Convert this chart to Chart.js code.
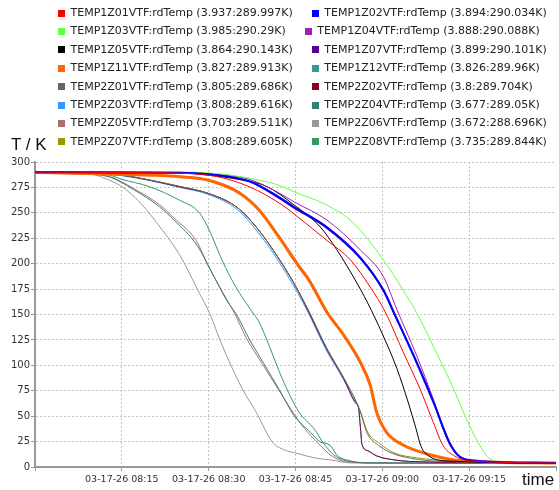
<!DOCTYPE html>
<html>
<head>
<meta charset="utf-8">
<script src="https://cdn.jsdelivr.net/npm/chart.js@4"></script>
<style>
  body { margin: 0; background: #fff; }
  #wrap { position: relative; width: 559px; height: 490px; overflow: hidden; }
  #chart { position: absolute; left: 0; top: 0; }
  #legend { position: absolute; left: 58px; top: 4px; font: 11px 'DejaVu Sans'; color: #222; }
  .row { display: flex; gap: 19px; height: 18.4px; line-height: 18.4px; white-space: nowrap; }
  .item { display: flex; align-items: center; }
  .box { width: 7px; height: 7px; margin-right: 5.5px; }
  .axis-title { position: absolute; font: 17px 'Liberation Sans'; line-height: 17px; color: #111; }
</style>
</head>
<body>
<div id="wrap">
  <canvas id="chart" width="559" height="490"></canvas>
  <div id="legend"></div>
  <div class="axis-title" style="left:11px; top:136px">T / K</div>
  <div class="axis-title" style="left:522px; top:471px">time</div>
</div>
<script>
// minutes after 08:00 and temperatures (K)
const t1Z01 = [0, 20, 30, 37, 42.7, 45.6, 50.4, 54.5, 57.9, 60.5, 63.6, 66.5, 68.8, 70.5, 72.3, 75, 90]
const T1Z01 = [289.997, 289.5, 287, 275.7, 257.7, 245, 223, 203.6, 177, 152.5, 113, 77, 44, 21, 11.5, 6, 3.937]

const t1Z02 = [0, 25, 30, 37, 42, 44.7, 50.4, 56.2, 60.2, 62, 65.9, 68.8, 71.7, 73.4, 76, 90]
const T1Z02 = [290.034, 289.5, 288, 281, 266, 256, 236, 206, 174, 152, 103, 64, 23, 10, 6, 3.894]

const t1Z03 = [0, 25, 31, 38, 42.7, 44.7, 50.4, 55, 60.2, 63.6, 65.9, 69.3, 72.3, 74.5, 76.8, 78.6, 81, 90]
const T1Z03 = [290.29, 290, 288.8, 283, 276, 270.8, 257.7, 240, 203.6, 174, 152, 113, 77, 47.5, 21.6, 8, 5, 3.985]

const t1Z04 = [0, 25, 30, 37, 42, 44.7, 50.4, 56.2, 60.2, 62.5, 65.9, 68.8, 71.1, 72.8, 75.7, 90]
const T1Z04 = [290.088, 289.8, 288.5, 283, 270, 261, 243, 213.4, 187, 155, 110, 67, 31, 12, 7, 3.888]

const t1Z05 = [0, 25, 30, 35, 40, 44.7, 49.3, 52.1, 55, 57.5, 60, 62.5, 64.5, 65.8, 66.7, 68, 71, 90]
const T1Z05 = [290.143, 289.5, 287, 283, 276, 258, 236, 214, 187, 161, 131, 97, 63, 38, 20, 11, 6, 3.864]

const t1Z07 = [0, 25, 30, 37, 42, 44.7, 50.4, 56.2, 60.2, 62, 65.9, 68.8, 71.5, 73.2, 76, 90]
const T1Z07 = [290.101, 289.5, 288, 281, 265, 255, 235, 205, 173, 151, 104, 65, 24, 11, 6, 3.899]

const t1Z11 = [0, 20, 25, 30, 35.3, 38.7, 42.1, 45.6, 47.3, 50.4, 53.3, 56.2, 57.9, 59, 60.7, 63.6, 67.6, 72.3, 78, 90]
const T1Z11 = [289.913, 287, 285.5, 282, 269.5, 252.8, 226.5, 197, 184, 152.5, 130, 103, 80.6, 54, 34.4, 21.6, 13, 7, 5, 3.827]

const t1Z12 = [0, 20, 25, 30, 35.3, 38.7, 42.1, 45.6, 47.3, 50.4, 53.3, 56.2, 57.9, 59, 60.7, 63.6, 67.6, 72.3, 78, 90]
const T1Z12 = [289.96, 287.5, 286, 282.5, 270.5, 254, 228, 199, 186, 154, 131, 104, 82, 56, 35, 22, 13, 7, 5, 3.826]

const t2Z01 = [0, 10, 15, 20, 25, 30, 35, 38.5, 42, 45, 47, 50.4, 53.3, 55.5, 56.2, 57.4, 59.4, 61.7, 65, 70, 90]
const T2Z01 = [289.686, 289, 287, 282, 276, 269, 255, 234, 206, 178, 157, 117, 88, 64, 54, 33, 21, 13.5, 8.5, 5.5, 3.805]

const t2Z02 = [0, 10, 15, 20, 25, 30, 35, 38.5, 42, 45, 47, 50.4, 53.3, 55.3, 55.9, 56.2, 56.5, 57.5, 59, 62, 67, 90]
const T2Z02 = [289.704, 289, 287, 282, 275.5, 269, 255, 234, 206, 178, 156, 116, 87, 64, 58, 40, 22, 16, 11, 7, 5, 3.8]

const t2Z03 = [0, 10, 15, 20, 25, 30, 35, 38.5, 42, 45, 47, 50.4, 53.3, 55.3, 55.9, 56.2, 56.5, 57.5, 59, 62, 67, 90]
const T2Z03 = [289.616, 289, 286.5, 281.5, 275, 268, 253, 231, 203, 175, 154, 114, 86, 63, 57, 39, 22, 16, 11, 7, 5, 3.808]

const t2Z04 = [0, 8, 13, 17, 21.5, 24, 28, 30.5, 33, 35, 37, 39.5, 42.2, 44.7, 47.6, 49.3, 50.4, 51.2, 52.1, 54.5, 58, 90]
const T2Z04 = [289.05, 288.5, 285, 273, 256, 243, 218, 192, 165, 148, 126, 102, 76, 51, 34, 24.6, 23, 20, 12, 6, 4, 3.677]

const t2Z05 = [0, 8, 13, 17, 21.5, 24, 27.8, 30.1, 33, 34.5, 36.4, 39.2, 42.2, 45.6, 47.6, 49.5, 51, 53, 55, 60, 90]
const T2Z05 = [289.511, 289, 285.5, 274, 258, 245, 223, 196, 166, 151, 128, 102, 75, 45, 31, 20, 12, 6, 4.5, 3.9, 3.703]

const t2Z06 = [0, 9.5, 12.9, 15.2, 18, 22, 25, 28.4, 30.1, 32.3, 35.8, 38.2, 41, 43, 45.6, 48.2, 51, 54.5, 60, 90]
const T2Z06 = [288.696, 288, 282, 275, 261, 233, 208.5, 171, 152, 120, 77, 54, 24.6, 17, 13, 9, 7, 4, 3.7, 3.672]

const t2Z07 = [0, 10, 15, 20, 25, 30, 35, 38.5, 42, 45, 47, 50.4, 53.3, 55.5, 56.2, 57.5, 59.6, 62, 66, 72, 90]
const T2Z07 = [289.605, 289, 287, 282, 276, 269, 255, 234, 206, 178, 156, 116, 88, 64, 55, 34, 23, 14, 9, 6, 3.808]

const t2Z08 = [0, 10, 13, 15, 19.8, 24.9, 28.4, 30.1, 32.3, 34.7, 37.5, 38.7, 40.4, 42.7, 45.6, 48.2, 49.9, 51.6, 53.8, 58, 90]
const T2Z08 = [289.844, 289, 287, 283, 275.7, 262.6, 250, 233, 203.6, 177, 152.7, 142.6, 120, 87, 54, 37.7, 23, 12, 6, 4.2, 3.735]

const names = ['TEMP1Z01VTF:rdTemp', 'TEMP1Z02VTF:rdTemp', 'TEMP1Z03VTF:rdTemp', 'TEMP1Z04VTF:rdTemp',
  'TEMP1Z05VTF:rdTemp', 'TEMP1Z07VTF:rdTemp', 'TEMP1Z11VTF:rdTemp', 'TEMP1Z12VTF:rdTemp',
  'TEMP2Z01VTF:rdTemp', 'TEMP2Z02VTF:rdTemp', 'TEMP2Z03VTF:rdTemp', 'TEMP2Z04VTF:rdTemp',
  'TEMP2Z05VTF:rdTemp', 'TEMP2Z06VTF:rdTemp', 'TEMP2Z07VTF:rdTemp', 'TEMP2Z08VTF:rdTemp']
const ranges = ['3.937:289.997K', '3.894:290.034K', '3.985:290.29K', '3.888:290.088K',
  '3.864:290.143K', '3.899:290.101K', '3.827:289.913K', '3.826:289.96K',
  '3.805:289.686K', '3.8:289.704K', '3.808:289.616K', '3.677:289.05K',
  '3.703:289.511K', '3.672:288.696K', '3.808:289.605K', '3.735:289.844K']
const tickLabels = ['', '03-17-26 08:15', '03-17-26 08:30', '03-17-26 08:45', '03-17-26 09:00', '03-17-26 09:15', '']

const times = [t1Z01, t1Z02, t1Z03, t1Z04, t1Z05, t1Z07, t1Z11, t1Z12, t2Z01, t2Z02, t2Z03, t2Z04, t2Z05, t2Z06, t2Z07, t2Z08]
const temps = [T1Z01, T1Z02, T1Z03, T1Z04, T1Z05, T1Z07, T1Z11, T1Z12, T2Z01, T2Z02, T2Z03, T2Z04, T2Z05, T2Z06, T2Z07, T2Z08]

const colors = ['#ff0000', '#0000ff', '#66ff44', '#a020b0', '#000000', '#550099', '#ff6600', '#339999',
  '#666666', '#880022', '#3399ff', '#337f77', '#aa7070', '#999999', '#999900', '#339966']
const widths = [1, 2, 1, 1, 1, 1.5, 3, 1, 1, 1, 1, 1, 1, 1, 1, 1]

// legend, two items per row like the original
const legend = document.getElementById("legend")
for (let i = 0; i < names.length; i += 2) {
  const row = document.createElement("div")
  row.className = "row"
  for (let j = i; j < i + 2; j++) {
    row.innerHTML += `<span class="item"><span class="box" style="background:${colors[j]}"></span>${names[j]} (${ranges[j]})</span>`
  }
  legend.appendChild(row)
}

const datasets = names.map((name, i) => ({
  label: name,
  data: times[i].map((t, k) => ({ x: t, y: temps[i][k] })),
  borderColor: colors[i],
  borderWidth: widths[i],
  pointRadius: 0,
  fill: false,
  cubicInterpolationMode: 'monotone'
}))

const gridColor = '#c4c4c4'

new Chart(document.getElementById("chart"), {
  type: 'line',
  data: { datasets },
  options: {
    responsive: false,
    animation: false,
    layout: { padding: { top: 162, right: 2, left: 0, bottom: 0 } },
    plugins: {
      legend: { display: false },
      tooltip: { enabled: false }
    },
    scales: {
      x: {
        type: 'linear',
        min: 0,
        max: 90,
        afterFit: (scale) => { scale.height = 23 },
        ticks: {
          stepSize: 15,
          autoSkip: false,
          maxRotation: 0,
          padding: 3,
          color: '#333',
          font: { family: 'DejaVu Sans', size: 9.5 },
          callback: (v) => tickLabels[Math.round(v / 15)]
        },
        grid: {
          color: (ctx) => (ctx.tick && (ctx.tick.value === 0 || ctx.tick.value === 90)) ? 'rgba(0,0,0,0)' : gridColor,
          tickColor: '#999',
          tickLength: 4
        },
        border: { color: '#999', width: 2, dash: [2, 2] }
      },
      y: {
        min: 0,
        max: 300,
        afterFit: (scale) => { scale.width = 35 },
        ticks: {
          stepSize: 25,
          padding: 1,
          color: '#333',
          font: { family: 'DejaVu Sans', size: 10 }
        },
        grid: {
          color: (ctx) => (ctx.tick && ctx.tick.value === 0) ? 'rgba(0,0,0,0)' : gridColor,
          tickColor: '#999',
          tickLength: 4
        },
        border: { color: '#999', width: 2, dash: [2, 2] }
      }
    }
  }
})
</script>
</body>
</html>
